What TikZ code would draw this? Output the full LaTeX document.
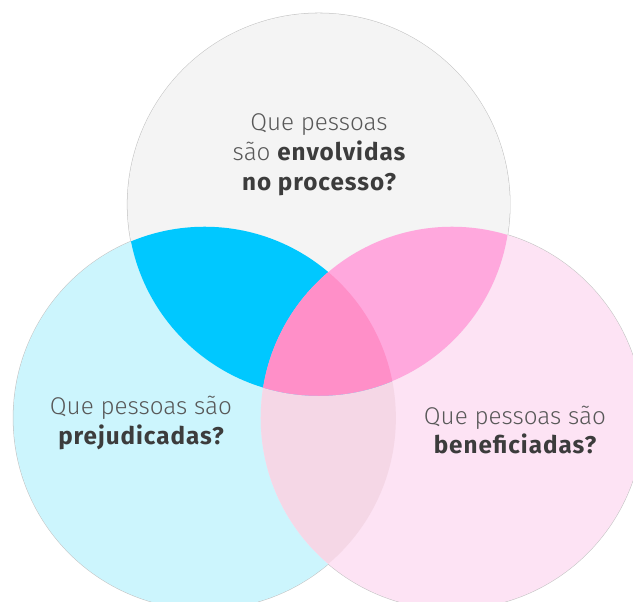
\documentclass[tikz,border=0pt]{standalone}
\usepackage{fontspec}
\setmainfont{Fira Sans}[UprightFont=* Light, BoldFont=* Bold, BoldFeatures={LetterSpace=4}]
\usetikzlibrary{positioning}
\definecolor{graylite}{RGB}{244,244,244}
\definecolor{cyanlite}{RGB}{204,245,253}
\definecolor{pinklite}{RGB}{253,227,244}
\definecolor{mixlite}{RGB}{245,215,230}
\definecolor{cyandeep}{RGB}{0,200,255}
\definecolor{pinkdeep}{RGB}{255,168,221}
\definecolor{pinkcore}{RGB}{255,143,200}
\definecolor{rimgray}{RGB}{195,195,195}
\definecolor{textgray}{RGB}{88,88,88}
\definecolor{boldgray}{RGB}{60,60,60}
\newcommand{\topcirc}{(318.7,397.5) circle (3.826cm)}
\newcommand{\leftcirc}{(204.6,184) circle (3.826cm)}
\newcommand{\rightcirc}{(452,184) circle (3.826cm)}
\newcommand{\hl}[1]{{\bfseries\color{boldgray}#1}}

\begin{document}
\begin{tikzpicture}[x=0.02cm,y=0.02cm,
  rim/.style={rimgray,line width=0.6pt},
  question/.style={align=center,text=textgray,font=\fontsize{13.8}{17}\selectfont,inner sep=0pt}]
\clip (0,0) rectangle (633,602);
% outer rims, fills go on top
\draw[rim] \topcirc;
\draw[rim] \leftcirc;
\draw[rim] \rightcirc;
\fill[cyanlite] \leftcirc;
\fill[pinklite] \rightcirc;
\begin{scope}
  \clip \leftcirc;
  \fill[mixlite] \rightcirc;
\end{scope}
\fill[graylite] \topcirc;
\begin{scope}
  \clip \topcirc;
  \fill[cyandeep] \leftcirc;
  \fill[pinkdeep] \rightcirc;
  \clip \leftcirc;
  \fill[pinkcore] \rightcirc;
\end{scope}
\node[question] (envolvidas) at (319,447) {Que pessoas\\ são \hl{envolvidas}\\ \hl{no processo?}};
\node[question] (prejudicadas) at (141,179) {Que pessoas são\\ \hl{prejudicadas?}};
\node[question] (beneficiadas) at (515,172) {Que pessoas são\\ \hl{beneficiadas?}};
\end{tikzpicture}
\end{document}
